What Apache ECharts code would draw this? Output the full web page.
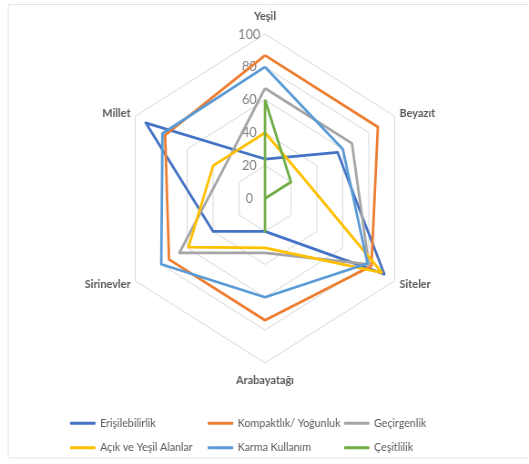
<!DOCTYPE html>
<html>
<head>
<meta charset="utf-8">
<script src="https://cdn.jsdelivr.net/npm/echarts@6/dist/echarts.min.js"></script>
<style>
html, body { margin: 0; padding: 0; background: #ffffff; overflow: hidden; width: 529px; height: 464px; }
#chart { width: 581px; height: 464px; transform: scaleX(0.9105); transform-origin: 0 0; }
</style>
</head>
<body>
<div id="chart"></div>
<script>
// Indicators in ECharts (counter-clockwise from top) order
const categories = ['Yeşil', 'Millet', 'Sirinevler', 'Arabayatağı', 'Siteler', 'Beyazıt'];
const seriesNames = ['Erişilebilirlik', 'Kompaktlık/ Yoğunluk', 'Geçirgenlik', 'Açık ve Yeşil Alanlar', 'Karma Kullanım', 'Çeşitlilik'];
const erisilebilirlik = [24, 92, 40, 20, 92, 56];
const kompaktlik = [87, 77, 74, 74, 82, 87];
const gecirgenlik = [67, 33, 66, 33, 80, 67];
const acikYesil = [40, 40, 59, 30, 90, 28];
const karma = [80, 79, 80, 60, 79, 60];
const cesitlilik = [60, 0, 0, 20, 0, 20];
const axisMin = 0;
const axisMax = 100;
const tickCount = 5;

const values = [erisilebilirlik, kompaktlik, gecirgenlik, acikYesil, karma, cesitlilik];
const colors = ['#4472C4', '#ED7D31', '#A5A5A5', '#FFC000', '#5B9BD5', '#70AD47'];

const chart = echarts.init(document.getElementById('chart'), null, { renderer: 'canvas', width: 581, height: 464 });

const sideGap = 6, vertGap = 10.5;
const indicator = categories.map(function (c, i) {
  const ind = { name: c, min: axisMin, max: axisMax, nameGap: (i === 0 || i === 3) ? vertGap : sideGap };
  if (i === 0) {
    ind.axisLabel = { show: true };
  }
  return ind;
});

const legendLefts = [76.9, 228.1, 377.8];
const legendTops = [416.3, 440.7];
const legends = seriesNames.map(function (n, i) {
  return {
    data: [n],
    left: legendLefts[i % 3],
    top: legendTops[Math.floor(i / 3)],
    padding: 0,
    icon: 'roundRect',
    itemWidth: 28,
    itemHeight: 3,
    selectedMode: false,
    textStyle: { fontFamily: 'Lato', fontSize: 11.7, color: '#595959', lineHeight: 14 }
  };
});

const option = {
  backgroundColor: '#ffffff',
  animation: false,
  color: colors,
  graphic: [{
    type: 'rect',
    shape: { x: 9.1, y: 4.5, width: 700, height: 453.5 },
    style: { fill: 'none', stroke: '#e3e3e3', lineWidth: 1 },
    silent: true
  }],
  legend: legends,
  radar: {
    center: [291.05, 198.5],
    radius: 164.5,
    startAngle: 90,
    splitNumber: tickCount,
    shape: 'polygon',
    indicator: indicator,
    axisName: { color: '#595959', fontFamily: 'Lato', fontWeight: 'bold', fontSize: 12, lineHeight: 14 },
    axisLine: { show: false },
    axisTick: { show: false },
    splitArea: { show: false },
    splitLine: { lineStyle: { color: '#d9d9d9', width: 1 } },
    axisLabel: { show: false, color: '#808080', fontFamily: 'Lato', fontSize: 14, align: 'center', margin: 17.25 }
  },
  series: seriesNames.map(function (n, i) {
    return {
      type: 'radar',
      name: n,
      symbol: 'none',
      lineStyle: { width: 2.75, color: colors[i] },
      itemStyle: { color: colors[i] },
      data: [{ name: n, value: values[i] }]
    };
  })
};
chart.setOption(option);
</script>
</body>
</html>
